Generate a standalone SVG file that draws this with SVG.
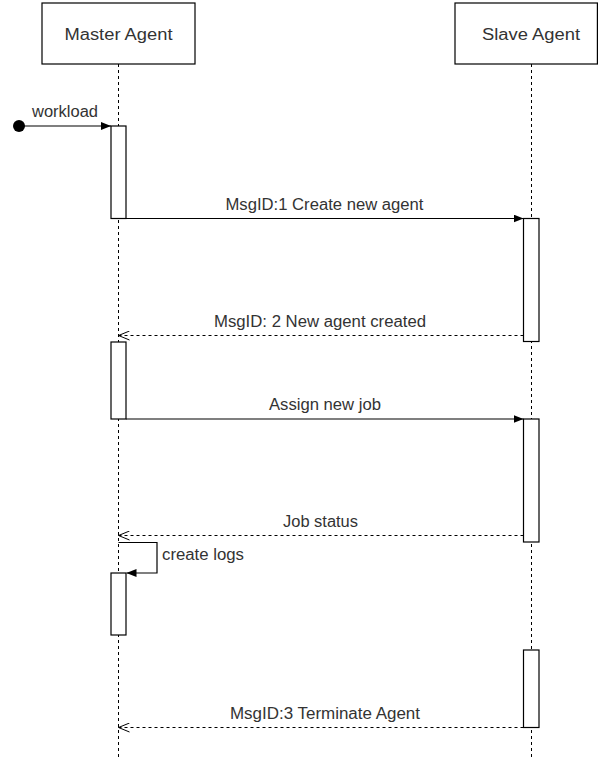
<svg xmlns="http://www.w3.org/2000/svg" width="598" height="758" viewBox="0 0 598 758">
<defs>
<marker id="filled" viewBox="0 0 10 8" refX="10" refY="4" markerWidth="10" markerHeight="8" markerUnits="userSpaceOnUse" orient="auto">
<path d="M0,0 L10,4 L0,8 Z" fill="#000"/>
</marker>
<marker id="open" viewBox="0 0 12 10" refX="11" refY="5" markerWidth="12" markerHeight="10" markerUnits="userSpaceOnUse" orient="auto">
<path d="M0,0.5 L11,5 L0,9.5" fill="none" stroke="#000" stroke-width="1"/>
</marker>
</defs>
<style>
.box{fill:#fff;stroke:#000;stroke-width:1.2}
.act{fill:#fff;stroke:#000;stroke-width:1.2}
.life{stroke:#000;stroke-width:1;stroke-dasharray:3 3;fill:none}
.t{font-family:"Liberation Sans",Arial,sans-serif;font-size:16px;fill:#333}
.msg{stroke:#000;stroke-width:1.2;fill:none}
.ret{stroke:#000;stroke-width:1;stroke-dasharray:3 3;fill:none}
</style>
<rect width="598" height="758" fill="#fff"/>
<g id="master-lifeline">
<line class="life" x1="118.5" y1="64" x2="118.5" y2="758"/>
<rect class="box" x="42" y="3" width="153" height="61"/>
<text class="t" x="118.5" y="39.5" text-anchor="middle" textLength="108" lengthAdjust="spacingAndGlyphs">Master Agent</text>
</g>
<g id="slave-lifeline">
<line class="life" x1="531.5" y1="64" x2="531.5" y2="758"/>
<rect class="box" x="455" y="3" width="142.4" height="61"/>
<text class="t" x="531" y="39.5" text-anchor="middle" textLength="98" lengthAdjust="spacingAndGlyphs">Slave Agent</text>
</g>
<g id="activations">
<rect id="m-act1" class="act" x="111" y="126" width="15" height="92.5"/>
<rect id="m-act2" class="act" x="111" y="342" width="15" height="77"/>
<rect id="m-act3" class="act" x="111" y="573" width="15" height="62"/>
<rect id="s-act1" class="act" x="523.5" y="218.5" width="15.5" height="123"/>
<rect id="s-act2" class="act" x="523.5" y="419" width="15.5" height="123"/>
<rect id="s-act3" class="act" x="523.5" y="650" width="15.5" height="77.5"/>
</g>
<g id="connectors">
<circle cx="19" cy="126" r="6" fill="#000"/>
<line class="msg" x1="19" y1="126" x2="111" y2="126" marker-end="url(#filled)"/>
<line class="msg" x1="126" y1="218.5" x2="523.5" y2="218.5" marker-end="url(#filled)"/>
<line class="ret" x1="523.5" y1="335.5" x2="118.5" y2="335.5" marker-end="url(#open)"/>
<line class="msg" x1="126" y1="419" x2="523.5" y2="419" marker-end="url(#filled)"/>
<line class="ret" x1="523.5" y1="535.5" x2="118.5" y2="535.5" marker-end="url(#open)"/>
<polyline class="msg" points="118.5,542.5 157,542.5 157,573 126.5,573" marker-end="url(#filled)"/>
<line class="ret" x1="523.5" y1="727.5" x2="118.5" y2="727.5" marker-end="url(#open)"/>
</g>
<g id="labels">
<text class="t" x="65" y="116.5" text-anchor="middle" textLength="66" lengthAdjust="spacingAndGlyphs">workload</text>
<text class="t" x="324.5" y="209.5" text-anchor="middle" textLength="198" lengthAdjust="spacingAndGlyphs">MsgID:1 Create new agent</text>
<text class="t" x="320" y="326.5" text-anchor="middle" textLength="212" lengthAdjust="spacingAndGlyphs">MsgID: 2 New agent created</text>
<text class="t" x="325" y="410" text-anchor="middle" textLength="112" lengthAdjust="spacingAndGlyphs">Assign new job</text>
<text class="t" x="320.5" y="527" text-anchor="middle" textLength="75" lengthAdjust="spacingAndGlyphs">Job status</text>
<text class="t" x="162" y="560" textLength="82" lengthAdjust="spacingAndGlyphs">create logs</text>
<text class="t" x="325" y="718.5" text-anchor="middle" textLength="190" lengthAdjust="spacingAndGlyphs">MsgID:3 Terminate Agent</text>
</g>
</svg>
